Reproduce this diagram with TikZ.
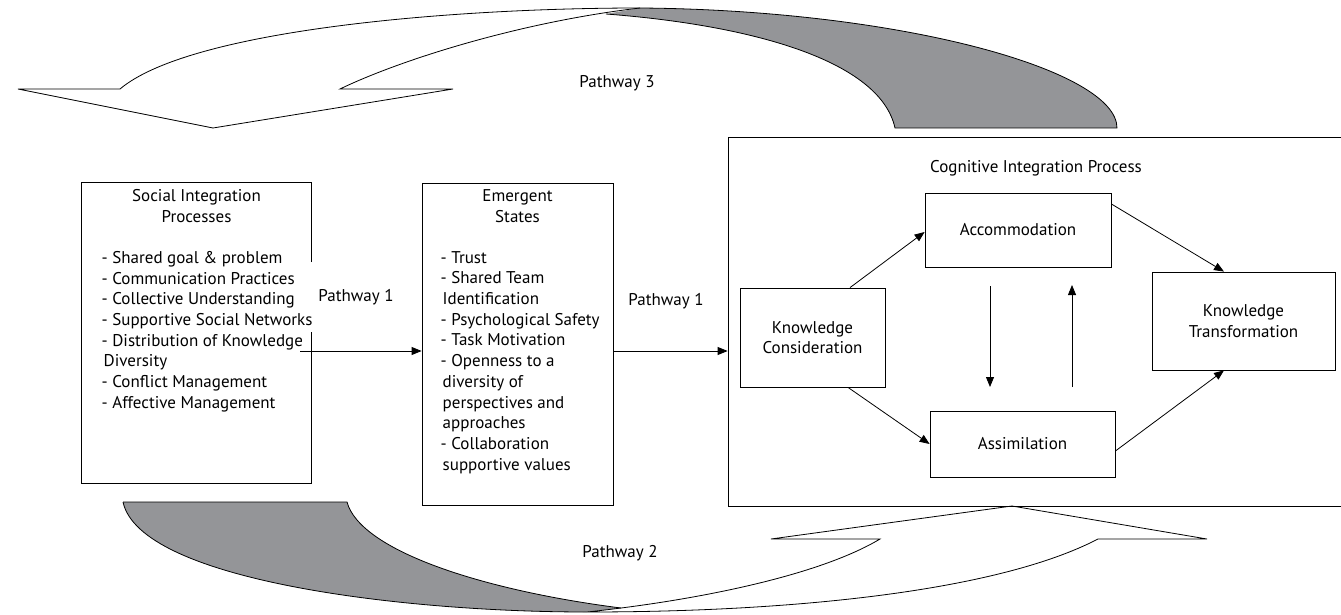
\documentclass[tikz,border=0pt]{standalone}
\usepackage{fontspec}
\setmainfont{PT Sans}
\usetikzlibrary{arrows.meta}
\definecolor{ribbon}{RGB}{148,149,152}
\begin{document}
\begin{tikzpicture}[x=1pt,y=-1pt,
  every node/.style={font=\fontsize{17}{20.7}\selectfont},
  box/.style={draw,line width=0.8pt,inner sep=0pt},
  frame/.style={inner sep=0pt},
  list/.style={anchor=north west,align=left,inner sep=0pt},
  arr/.style={line width=0.8pt,-{Triangle[length=10pt,width=8pt]}},
  band/.style={line width=0.8pt,line join=miter}]
\useasboundingbox (0,0) rectangle (1341,615);

% ---- Pathway 3: ribbon arrow across the top ----
\fill[ribbon] (606,14) -- (640,8) .. controls (900,10) and (1117,70) .. (1117,128)
  -- (895,128) .. controls (880,60) and (750,25) .. (606,14) -- cycle;
\draw[band] (120,89) .. controls (190,30) and (450,8) .. (640,8)
  .. controls (900,10) and (1117,70) .. (1117,128) -- (895,128)
  .. controls (880,60) and (750,25) .. (606,14);
\draw[band] (120,89) -- (18,89) -- (213,128) -- (453,89) -- (340,89)
  .. controls (400,60) and (520,22) .. (640,8);

% ---- Pathway 2: ribbon arrow across the bottom ----
\fill[ribbon] (123,502) -- (347,502) .. controls (360,550) and (480,590) .. (621,608)
  -- (587,612) .. controls (400,612) and (140,580) .. (123,502) -- cycle;
\draw[band] (123,502) -- (347,502) .. controls (360,550) and (480,590) .. (621,608);
\draw[band] (123,502) .. controls (140,580) and (400,612) .. (587,612)
  .. controls (800,612) and (1000,590) .. (1098,539) -- (1207,539) -- (1012,506)
  -- (771,539) -- (880,539) .. controls (820,575) and (700,600) .. (587,612);

% ---- Social integration processes ----
\node[frame,minimum width=229pt,minimum height=300pt] (sib) at (196.5,333) {};
\draw[line width=0.8pt] (sib.north east |- 0,262) -- (sib.north east) -- (sib.north west)
  -- (sib.south west) -- (sib.south east) -- (sib.south east |- 0,332);
\node[align=center] (sititle) at (196.5,206) {Social Integration\\Processes};
\node[list] (silist) at (101.5,251) {- Shared goal \& problem\\
- Communication Practices\\
- Collective Understanding\\
- Supportive Social Networks\\
- Distribution of Knowledge\\
\hspace*{2pt}Diversity\\
- Conflict Management\\
- Affective Management};

% ---- Emergent states ----
\node[box,minimum width=191pt,minimum height=322pt] (esb) at (517.5,344) {};
\node[align=center] (estitle) at (517.5,206) {Emergent\\States};
\node[list] (eslist) at (440.5,251) {- Trust\\
- Shared Team\\
\hspace*{2pt}Identification\\
- Psychological Safety\\
- Task Motivation\\
- Openness to a\\
\hspace*{2pt}diversity of\\
\hspace*{2pt}perspectives and\\
\hspace*{2pt}approaches\\
- Collaboration\\
\hspace*{2pt}supportive values};

% ---- Cognitive integration process ----
\node[box,minimum width=614pt,minimum height=369pt] (cib) at (1035,321.5) {};
\node (cip) at (1036,168) {Cognitive Integration Process};
\node[box,minimum width=186pt,minimum height=74pt] (acc) at (1018,230) {Accommodation};
\node[box,minimum width=145pt,minimum height=99pt,align=center] (kc) at (812.5,337.5) {Knowledge\\Consideration};
\node[box,minimum width=185pt,minimum height=66pt] (asm) at (1022.5,444) {Assimilation};
\node[box,minimum width=183pt,minimum height=98pt,align=center] (kt) at (1243.5,321) {Knowledge\\Transformation};

% ---- Pathway labels ----
\node (pw1a) at (356,297) {Pathway 1};
\node (pw1b) at (666,301) {Pathway 1};
\node (pw2) at (620,553) {Pathway 2};
\node (pw3) at (617,83) {Pathway 3};

% ---- Connectors ----
\coordinate (p1start) at (300,351);
\draw[arr] (p1start) -- (p1start -| esb.west);
\draw[arr] (esb.east |- p1start) -- (cib.west |- p1start);
\draw[arr] ([xshift=37.5pt]kc.north) -- ([yshift=-2pt]acc.west);
\draw[arr] ([xshift=35.5pt]kc.south) -- (asm.west);
\draw[arr] ([yshift=26pt]acc.east) -- ([xshift=-19.5pt]kt.north);
\draw[arr] ([yshift=-7pt]asm.east) -- ([xshift=-19.5pt]kt.south);
\coordinate (dtop) at (990,286);
\coordinate (ubot) at (1072,387);
\draw[arr] (dtop) -- (dtop |- ubot);
\draw[arr] (ubot) -- ([yshift=1pt]ubot |- dtop);
\end{tikzpicture}
\end{document}
